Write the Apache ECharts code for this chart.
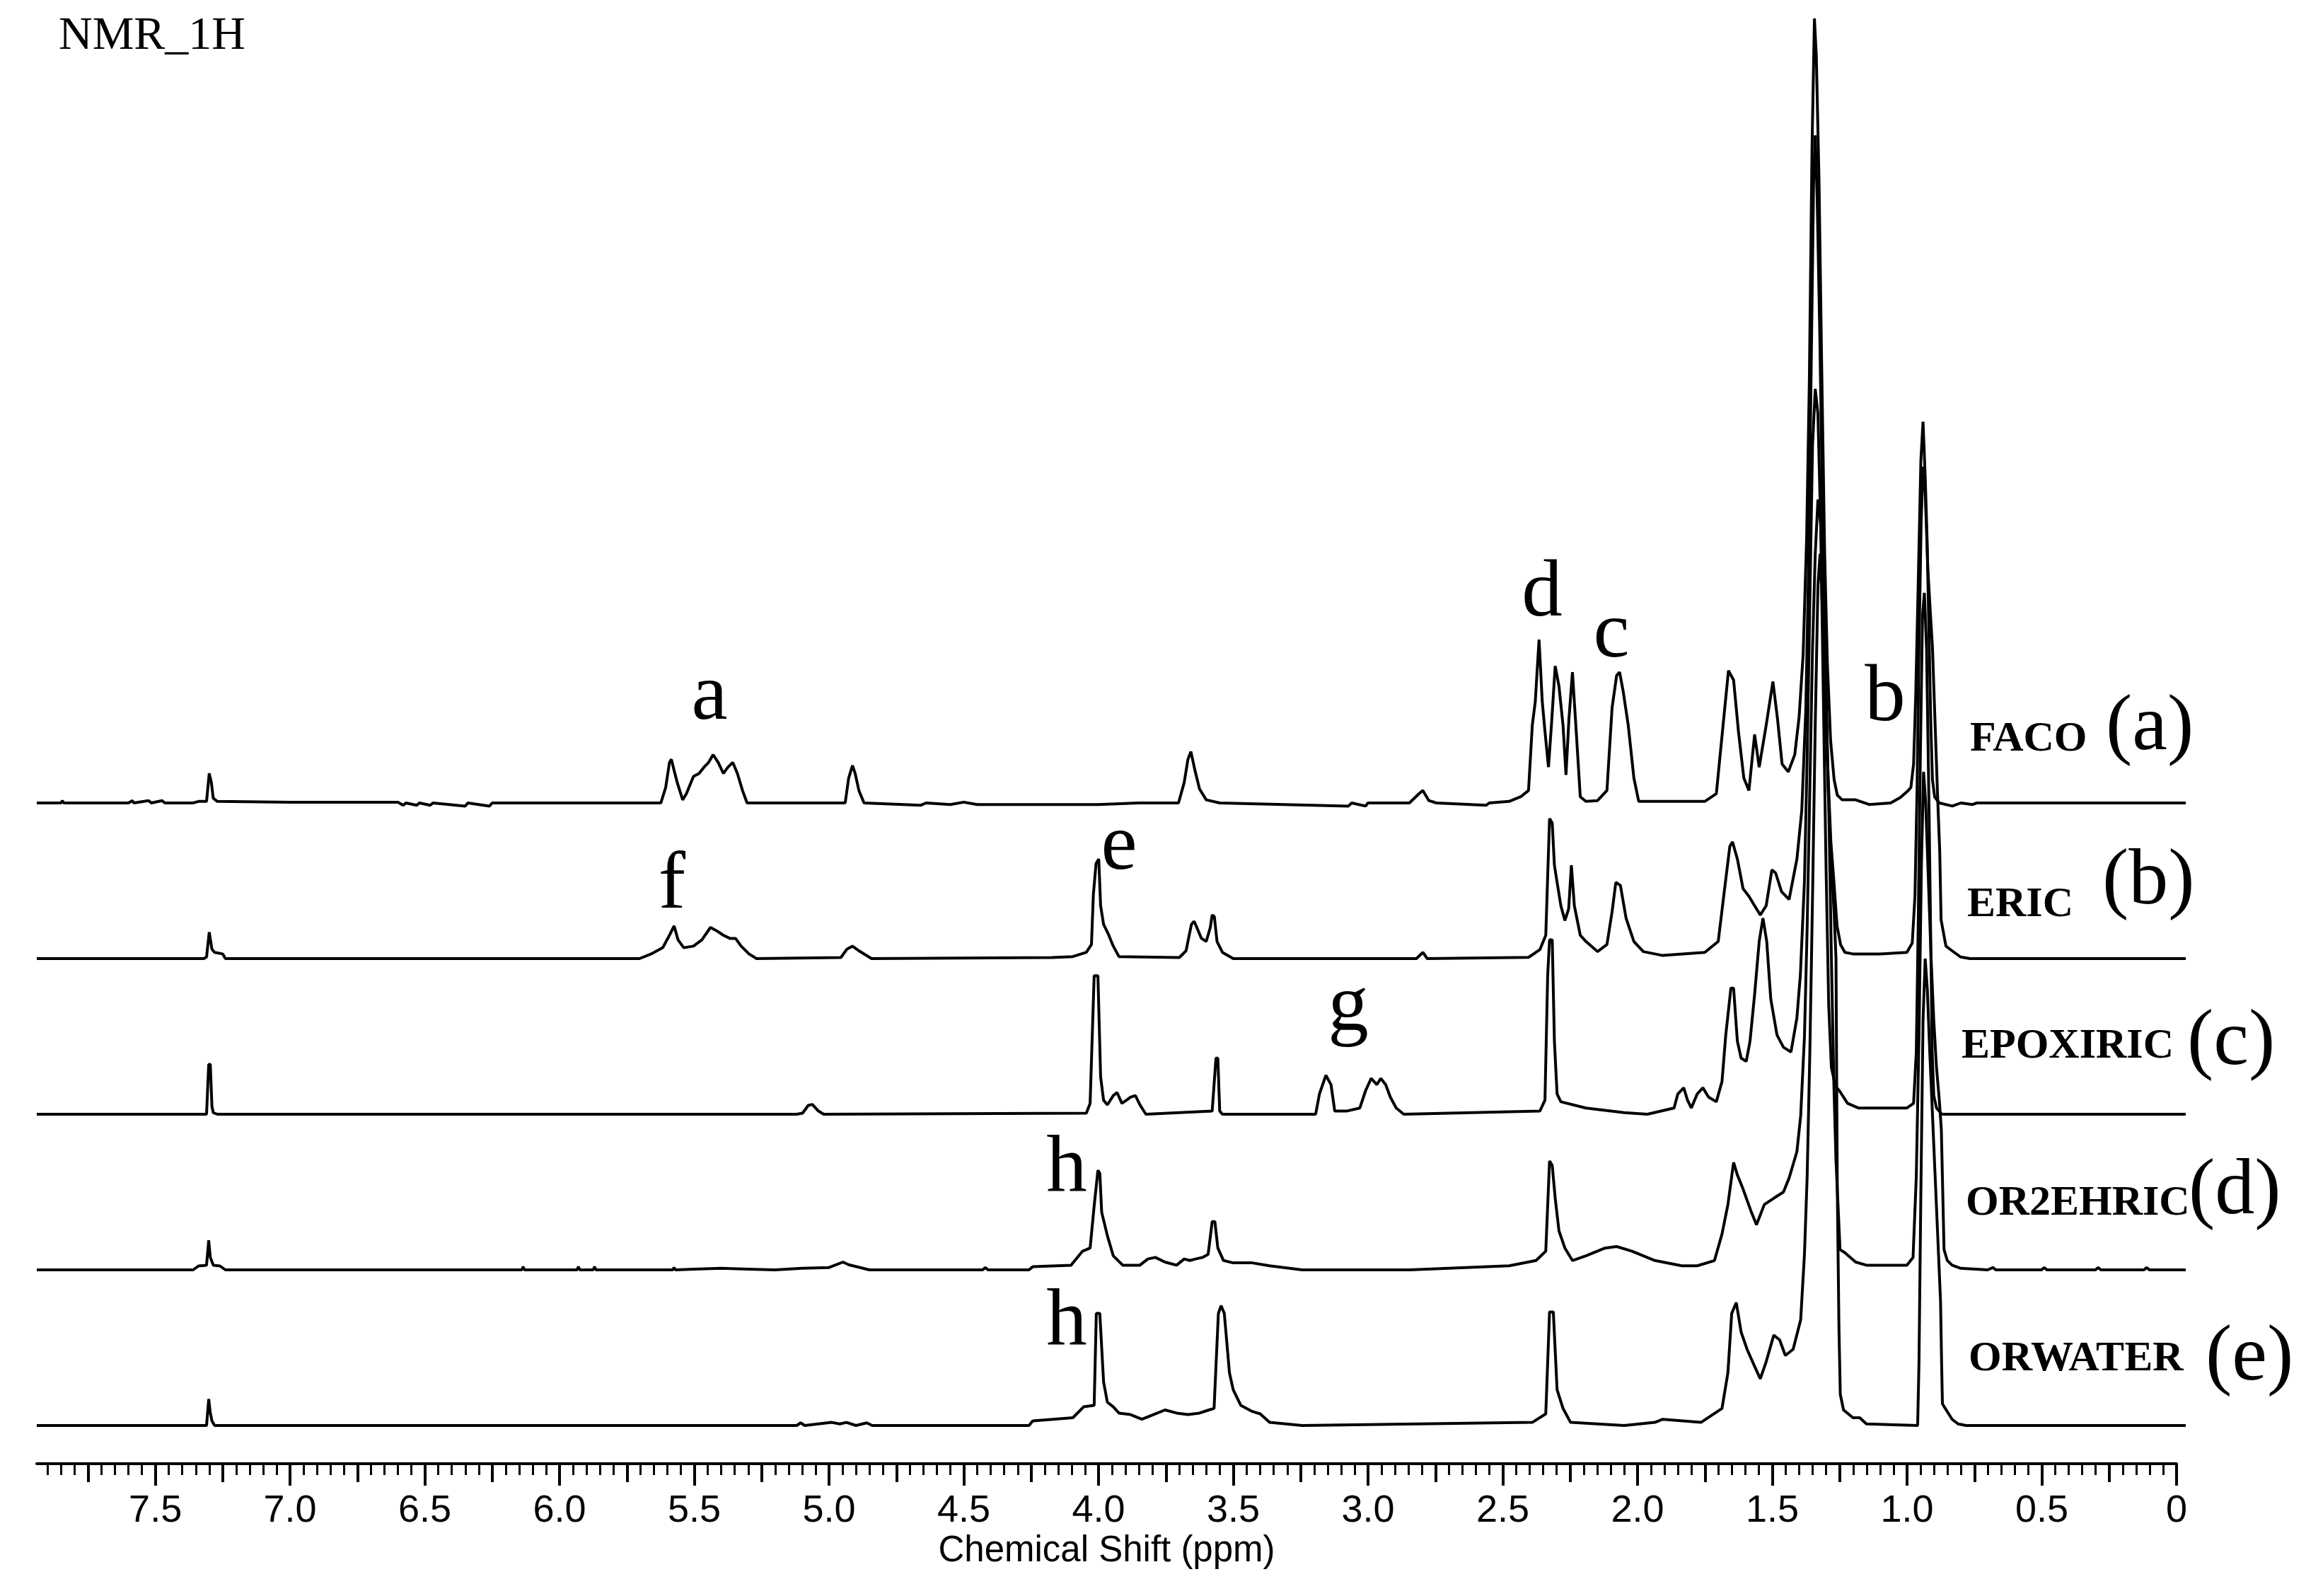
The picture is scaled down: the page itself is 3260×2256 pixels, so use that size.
<!DOCTYPE html>
<html>
<head>
<meta charset="utf-8">
<script src="https://cdn.jsdelivr.net/npm/echarts@6/dist/echarts.min.js"></script>
<style>
html,body{margin:0;padding:0;background:#fff;}
#chart{width:3260px;height:2256px;}
</style>
</head>
<body>
<div id="chart"></div>
<script>
// ---------- data (ppm, relative intensity above each trace's own baseline) ----------
const sampleNames = ['FACO', 'ERIC', 'EPOXIRIC', 'OR2EHRIC', 'ORWATER'];
const sampleTags = ['(a)', '(b)', '(c)', '(d)', '(e)'];
const stackOffsets = [400, 300, 200, 100, 0];

const tickValues = [0, 0.5, 1.0, 1.5, 2.0, 2.5, 3.0, 3.5, 4.0, 4.5, 5.0, 5.5, 6.0, 6.5, 7.0, 7.5];
const tickLabels = ['0', '0.5', '1.0', '1.5', '2.0', '2.5', '3.0', '3.5', '4.0', '4.5', '5.0', '5.5', '6.0', '6.5', '7.0', '7.5'];
const midTickValues = [0.25, 0.75, 1.25, 1.75, 2.25, 2.75, 3.25, 3.75, 4.25, 4.75, 5.25, 5.75, 6.25, 6.75, 7.25, 7.75];

const faco = [
[7.94,0],[7.85,0],[7.845,1.5],[7.84,0],[7.6,0],[7.585,1.5],[7.58,0],[7.525,1.5],[7.515,0],[7.475,1.5],[7.465,0],
[7.36,0],[7.34,1],[7.31,1],[7.30,19],[7.292,13],[7.285,3],[7.27,1],[7.0,0.5],[6.8,0.5],[6.6,0.5],
[6.58,-1.5],[6.57,0],[6.53,-1.5],[6.52,0],[6.48,-1.5],[6.47,0],[6.35,-2],[6.34,0],[6.26,-2],[6.25,0],[5.7,0],
[5.624,0],[5.606,10],[5.592,26],[5.585,28],[5.575,21],[5.563,13],[5.543,2],[5.529,6],[5.503,17],[5.482,19],
[5.464,23],[5.447,26],[5.43,31],[5.411,26],[5.392,19],[5.375,23],[5.357,26],[5.34,19],[5.321,8],[5.304,0],
[4.94,0],[4.927,16],[4.913,24],[4.903,19],[4.889,8],[4.87,0],
[4.66,-1.5],[4.64,0],[4.55,-1],[4.5,0.5],[4.45,-1],[4.2,-1],[4.0,-1],[3.85,0],
[3.703,0],[3.682,13],[3.668,28],[3.657,33],[3.642,21],[3.625,9],[3.60,2],[3.55,0],
[3.073,-2],[3.06,0],[3.009,-2],[3.0,0],
[2.846,0],[2.81,6],[2.796,8],[2.774,1.5],[2.746,0],[2.561,-1.5],[2.55,0],
[2.476,1],[2.433,4],[2.404,8],[2.39,50],[2.379,65],[2.365,105],[2.353,65],[2.343,46],[2.33,23],[2.319,50],
[2.305,88],[2.291,75],[2.276,50],[2.265,18],[2.254,54],[2.241,84],[2.227,46],[2.212,4],[2.191,1],[2.148,1.5],
[2.113,8],[2.094,61],[2.077,82],[2.066,84],[2.053,72],[2.034,50],[2.013,16],[1.995,1],[1.75,1],[1.707,6],
[1.682,50],[1.662,85],[1.643,79],[1.625,46],[1.605,16],[1.586,8],[1.565,44],[1.548,23],[1.522,50],[1.497,78],
[1.48,54],[1.463,25],[1.44,20],[1.416,31],
[1.40,55],[1.385,95],[1.372,170],[1.362,270],[1.352,420],[1.343,504],[1.336,480],[1.326,400],[1.316,280],
[1.305,160],[1.295,90],[1.283,40],[1.27,15],[1.258,5],[1.24,2],[1.19,2],[1.14,-1],[1.06,0],[1.024,3.5],
[0.995,8],[0.985,10],[0.975,25],[0.967,70],[0.958,140],[0.948,220],[0.94,245],[0.932,210],[0.925,170],
[0.918,110],[0.911,50],[0.905,15],[0.897,4],[0.88,0],[0.831,-2],[0.8,0],[0.756,-1],[0.74,0],[-0.035,0]
];

const eric = [
[7.94,0],[7.32,0],[7.31,1],[7.30,17],[7.29,6],[7.28,4],[7.25,3],[7.24,0],
[5.703,0],[5.66,3],[5.617,7],[5.592,15],[5.575,21],[5.56,12],[5.539,7],[5.503,8],[5.472,12],[5.44,20],
[5.418,18],[5.392,15],[5.368,13],[5.347,13],[5.326,8],[5.297,3],[5.269,0],
[4.956,0.7],[4.934,6],[4.913,8],[4.889,5],[4.842,0],
[4.173,0.7],[4.095,1.3],[4.045,4],[4.026,9],[4.019,41],[4.009,61],[3.999,64],[3.992,34],[3.981,22],
[3.964,16],[3.945,8],[3.924,1.3],
[3.70,0.7],[3.675,5],[3.655,22],[3.645,24],[3.635,20],[3.618,13],[3.60,11],[3.585,20],[3.578,28],[3.57,27],
[3.56,11],[3.54,4],[3.50,0],
[2.82,0],[2.796,4],[2.78,0],
[2.404,0.8],[2.362,5.7],[2.34,15],[2.326,90],[2.316,87],[2.308,60],[2.298,49],[2.284,34],[2.269,24.5],
[2.255,32],[2.245,60],[2.234,34],[2.212,15],[2.191,11],[2.148,4.5],[2.113,9],[2.094,30],[2.08,49],[2.063,47],
[2.042,26],[2.013,11],[1.978,4.5],[1.906,2],[1.75,4],[1.70,11],[1.679,41],[1.657,72],[1.647,75],[1.629,64],
[1.608,45],[1.586,40],[1.565,34],[1.544,28],[1.522,34],[1.501,57],[1.487,55],[1.465,43],[1.437,38],[1.408,64],
[1.39,95],[1.375,160],[1.365,250],[1.355,380],[1.346,500],[1.34,529],[1.333,490],[1.323,400],[1.313,290],
[1.303,190],[1.293,120],[1.282,75],[1.271,50],[1.259,21],[1.246,9],[1.23,4],[1.2,3],[1.1,3],[1.0,4],
[0.98,10],[0.97,40],[0.962,110],[0.955,200],[0.947,280],[0.94,316],[0.932,300],[0.922,250],[0.912,220],
[0.905,200],[0.895,150],[0.885,100],[0.878,69],[0.873,25],[0.855,8],[0.832,5],[0.80,1],[0.766,0],[-0.035,0]
];

const epoxiric = [
[7.94,0],[7.31,0],[7.302,32],[7.296,32],[7.29,5],[7.285,1],[7.27,0],
[5.12,0],[5.098,0.7],[5.077,5.7],[5.062,6.3],[5.041,2.3],[5.02,0],
[4.045,0.7],[4.031,7],[4.016,89],[4.002,89],[3.992,24],[3.981,9],[3.967,6],[3.945,12],[3.931,14],[3.913,7],
[3.896,9],[3.881,11],[3.863,12],[3.846,6],[3.824,0],
[3.578,2],[3.564,36],[3.557,36],[3.55,2],[3.54,0],
[3.194,0],[3.18,13],[3.156,25],[3.137,19],[3.123,2],[3.08,2],[3.03,4],[3.009,15],[2.988,23],[2.967,19],
[2.952,23],[2.934,19],[2.917,11],[2.895,4],[2.867,0],
[2.362,2],[2.343,9],[2.333,89],[2.326,112],[2.316,112],[2.308,47],[2.298,13],[2.284,8],[2.191,4],[2.049,1],
[1.963,0],[1.864,4],[1.85,13],[1.828,17],[1.814,9],[1.8,4],[1.778,13],[1.757,17],[1.736,11],[1.707,8],
[1.686,21],[1.672,51],[1.653,81],[1.643,81],[1.629,47],[1.615,36],[1.596,34],[1.582,47],[1.565,77],[1.548,111],
[1.534,126],[1.52,111],[1.505,74],[1.482,51],[1.458,43],[1.43,40],[1.408,62],
[1.395,90],[1.38,150],[1.37,230],[1.36,330],[1.35,430],[1.34,466],[1.33,450],[1.32,380],[1.31,270],[1.30,160],
[1.29,70],[1.28,30],[1.265,18],[1.25,15],[1.22,7],[1.18,4],[1.0,4],[0.975,7],
[0.965,40],[0.958,120],[0.95,230],[0.942,320],[0.935,335],[0.927,300],[0.918,200],[0.912,120],[0.906,40],
[0.9,12],[0.89,4],[0.87,0],[-0.035,0]
];

const or2ehric = [
[7.94,0],[7.36,0],[7.34,2.5],[7.31,3],[7.302,19],[7.296,8],[7.285,3],[7.26,2.5],[7.24,0],
[6.14,0],[6.135,2],[6.13,0],[5.935,0],[5.93,2],[5.925,0],[5.875,0],[5.87,2],[5.865,0],
[5.58,0],[5.575,1.5],[5.57,0],[5.5,0.5],[5.4,1],[5.3,0.5],[5.2,0],[5.1,1],[5.0,1.5],[4.948,5],[4.927,3.3],[4.85,0],
[4.43,0],[4.42,1.5],[4.41,0],[4.258,0],[4.244,2],[4.102,3],[4.059,12],[4.031,14],[4.016,41],[4.002,64],
[3.995,62],[3.988,37],[3.967,22],[3.945,9],[3.91,3],[3.846,3],[3.817,7],[3.789,8],[3.753,5],[3.71,3],
[3.682,7],[3.661,6],[3.64,7],[3.614,8],[3.593,10],[3.578,31],[3.568,31],[3.557,14],[3.536,6],[3.5,4.5],
[3.429,4.5],[3.365,2.6],[3.244,0],[2.846,0],[2.476,2.6],[2.376,6],[2.34,12],[2.326,70],[2.316,67],[2.305,46],
[2.291,25],[2.269,14],[2.241,6],[2.191,9],[2.12,14],[2.077,15],[2.02,12],[1.935,6],[1.835,2.6],[1.778,2.6],
[1.714,6],[1.686,23],[1.664,42],[1.643,69],[1.629,61],[1.608,52],[1.579,38],[1.558,29],[1.529,42],[1.494,46],
[1.458,50],[1.437,59],[1.408,76],[1.394,99],
[1.38,150],[1.37,220],[1.36,310],[1.35,400],[1.34,460],[1.33,495],[1.32,480],[1.31,430],[1.30,370],[1.29,300],
[1.28,200],[1.271,120],[1.263,70],[1.255,40],[1.248,13],[1.23,11],[1.19,5],[1.15,3],[1.0,3],[0.977,8],
[0.965,60],[0.955,150],[0.946,260],[0.938,320],[0.93,300],[0.92,250],[0.91,200],[0.9,160],[0.89,130],
[0.88,110],[0.872,90],[0.862,13],[0.85,6],[0.832,3],[0.8,1],[0.7,0],[0.68,1.5],[0.67,0],[0.5,0],[0.49,1.5],
[0.48,0],[0.3,0],[0.29,1.5],[0.28,0],[0.12,0],[0.11,1.5],[0.1,0],[-0.035,0]
];

const orwater = [
[7.94,0],[7.31,0],[7.302,17],[7.296,8],[7.29,3],[7.28,0],
[5.12,0],[5.105,1.7],[5.09,0],[4.99,2],[4.96,1],[4.935,2],[4.9,0],[4.86,1.7],[4.84,0],
[4.258,0],[4.244,3],[4.095,5],[4.055,12],[4.016,13],[4.008,72],[3.995,72],[3.981,28],[3.967,15],[3.945,12],
[3.924,8],[3.881,7],[3.839,4],[3.796,7],[3.753,10],[3.71,8],[3.668,7],[3.625,8],[3.59,10],[3.571,11],
[3.555,72],[3.545,77],[3.533,72],[3.514,34],[3.5,23],[3.472,13],[3.429,9],[3.4,7.5],[3.365,2],[3.244,0],
[2.39,2],[2.34,7.5],[2.326,73],[2.312,73],[2.298,23],[2.276,11],[2.248,2],[2.049,0],[1.935,2],[1.906,4],
[1.764,2],[1.686,11],[1.664,34],[1.65,72],[1.633,79],[1.615,60],[1.593,49],[1.565,38],[1.544,30],[1.522,41],
[1.494,58],[1.472,55],[1.451,45],[1.422,49],[1.394,68],
[1.38,110],[1.37,160],[1.36,240],[1.35,340],[1.34,450],[1.33,540],[1.322,560],[1.312,520],[1.30,450],
[1.29,400],[1.28,360],[1.27,330],[1.263,300],[1.258,150],[1.252,63],[1.247,20],[1.235,10],[1.2,5],[1.175,5],
[1.15,1],[0.96,0],
[0.955,40],[0.948,150],[0.94,260],[0.932,300],[0.924,280],[0.915,240],[0.905,200],[0.895,160],[0.885,120],
[0.875,80],[0.871,40],[0.868,14],[0.854,10],[0.832,4],[0.81,1],[0.78,0],[-0.035,0]
];

const spectra = [faco, eric, epoxiric, or2ehric, orwater];

// ---------- chart ----------
const chart = echarts.init(document.getElementById('chart'), null, {renderer: 'canvas'});
const serif = "'Liberation Serif', 'Times New Roman', serif";
const sans = "'Liberation Sans', Arial, sans-serif";

const series = spectra.map((pts, i) => ({
  name: sampleNames[i],
  type: 'line',
  xAxisIndex: 0,
  yAxisIndex: 0,
  data: pts.map(p => [p[0], p[1] + stackOffsets[i]]),
  showSymbol: false,
  symbol: 'none',
  smooth: false,
  clip: false,
  lineStyle: {color: '#000', width: 4},
  silent: true,
  z: 3
}));

function labelFor(v) {
  const i = tickValues.findIndex(t => Math.abs(t - v) < 1e-6);
  return i >= 0 ? tickLabels[i] : '';
}

function txt(text, x, y, font, align) {
  return {
    type: 'text', x: x, y: y, silent: true, z: 10,
    style: {text: text, font: font, fill: '#000', align: align, verticalAlign: 'middle',
            textAlign: align, textVerticalAlign: 'middle'}
  };
}

const peakFont = '115px ' + serif;
const nameFont = 'bold 60px ' + serif;
const tagFont = '112px ' + serif;

const graphics = [
  txt('NMR_1H', 83, 52, '66px ' + serif, 'left'),
  txt('a', 1003, 986, peakFont, 'center'),
  txt('d', 2180, 840, peakFont, 'center'),
  txt('c', 2278, 898, peakFont, 'center'),
  txt('b', 2665, 988, peakFont, 'center'),
  txt('f', 950, 1253, peakFont, 'center'),
  txt('e', 1582, 1198, peakFont, 'center'),
  txt('g', 1906, 1426, peakFont, 'center'),
  txt('h', 1508, 1653, peakFont, 'center'),
  txt('h', 1508, 1870, peakFont, 'center'),
  txt(sampleNames[0], 2785, 1045, nameFont, 'left'),
  txt(sampleNames[1], 2781, 1279, nameFont, 'left'),
  txt(sampleNames[2], 2773, 1479, nameFont, 'left'),
  txt(sampleNames[3], 2779, 1701, nameFont, 'left'),
  txt(sampleNames[4], 2783, 1921, nameFont, 'left'),
  txt(sampleTags[0], 2977, 1030, tagFont, 'left'),
  txt(sampleTags[1], 2972, 1248, tagFont, 'left'),
  txt(sampleTags[2], 3092, 1475, tagFont, 'left'),
  txt(sampleTags[3], 3094, 1686, tagFont, 'left'),
  txt(sampleTags[4], 3118, 1921, tagFont, 'left')
];

const option = {
  animation: false,
  backgroundColor: '#fff',
  grid: [
    {left: 52, right: 170, top: 13, bottom: 197, containLabel: false},
    {left: 52, right: 183, top: 1900, bottom: 187, containLabel: false}
  ],
  xAxis: [
    {gridIndex: 0, type: 'value', min: -0.035, max: 7.94, inverse: true, show: false},
    {
      gridIndex: 1, type: 'value', min: 0, max: 7.94, interval: 0.5, inverse: true, position: 'bottom',
      name: 'Chemical Shift (ppm)', nameLocation: 'middle', nameGap: 98,
      nameTextStyle: {fontFamily: sans, fontSize: 51, color: '#000'},
      axisLine: {show: true, onZero: false, lineStyle: {color: '#000', width: 4}},
      axisTick: {show: true, customValues: tickValues, length: 31, lineStyle: {color: '#000', width: 4}},
      minorTick: {show: true, splitNumber: 10, length: 16, lineStyle: {color: '#000', width: 3}},
      axisLabel: {show: true, customValues: tickValues, margin: 40, formatter: labelFor,
                  fontFamily: sans, fontSize: 54, color: '#000'},
      splitLine: {show: false}, minorSplitLine: {show: false}
    },
    {
      gridIndex: 1, type: 'value', min: 0, max: 7.94, interval: 0.5, inverse: true, position: 'bottom',
      axisLine: {show: false, onZero: false},
      axisTick: {show: true, customValues: midTickValues, length: 26, lineStyle: {color: '#000', width: 4}},
      axisLabel: {show: false},
      splitLine: {show: false}
    }
  ],
  yAxis: [
    {gridIndex: 0, type: 'value', min: -20, max: 910, show: false},
    {gridIndex: 1, type: 'value', min: 0, max: 1, show: false}
  ],
  series: series,
  graphic: graphics
};

chart.setOption(option);
</script>
</body>
</html>
